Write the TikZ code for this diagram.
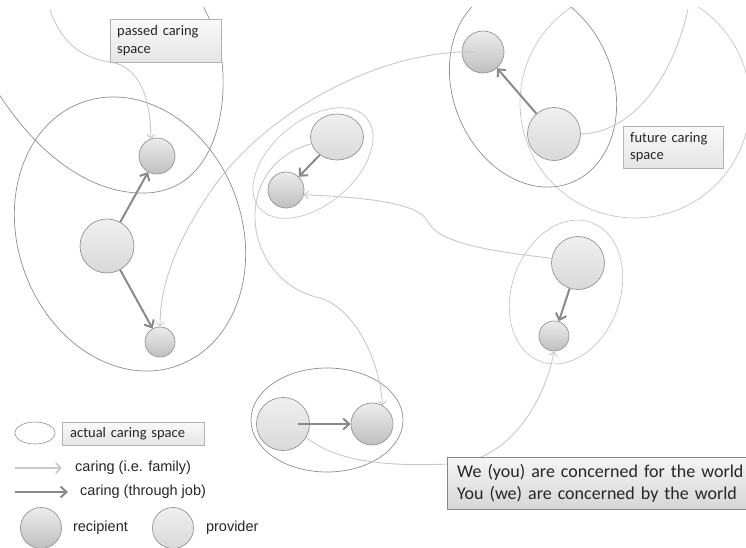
\documentclass[tikz,border=0pt]{standalone}
\usepackage{fontspec}
\setmainfont{Carlito}
\newfontfamily\legendfont{Liberation Sans}
\usepackage{tikz}
\usetikzlibrary{shapes.geometric,arrows.meta,positioning}
\definecolor{outl}{HTML}{8E8E8E}
\definecolor{outlight}{HTML}{C4C4C4}
\definecolor{jobgray}{HTML}{8A8A8A}
\definecolor{famgray}{HTML}{C8C8C8}
\definecolor{txt}{HTML}{262626}

\begin{document}
\begin{tikzpicture}[x=1pt,y=-1pt,
    prov/.style={circle,draw=gray!85,line width=.7pt,top color=gray!12,bottom color=gray!30,minimum size=#1,inner sep=0pt},
    recip/.style={circle,draw=gray!85,line width=.7pt,top color=gray!15,bottom color=gray!50,minimum size=#1,inner sep=0pt},
    job/.style={draw=jobgray,line width=2pt,-{Straight Barb[length=6pt,width=11pt]}},
    fam/.style={draw=famgray,line width=.9pt,-{Straight Barb[length=4pt,width=8pt]}},
    space/.style={draw=outl,line width=.7pt},
    spacelight/.style={draw=outlight,line width=.7pt},
    tag/.style={draw=gray!60,top color=gray!5,bottom color=gray!20,text=txt,align=left,anchor=north west,inner xsep=7pt,font=\fontsize{14.5}{17.5}\selectfont},
    leg/.style={anchor=west,inner sep=0pt,text=txt,font=\legendfont\fontsize{14.5}{17}\selectfont}]
\useasboundingbox (0,0) rectangle (746,548);

\begin{scope}
\clip (0,8) rectangle (746,548);
\draw[space] (-5,88) .. controls (40,160) and (95,195) .. (147,193) .. controls (205,190) and (225,130) .. (223,75) .. controls (222,45) and (213,25) .. (203,6);
\draw[spacelight] (635,103) circle [radius=115];
\draw[space, rotate around={22:(533,87)}] (533,87) ellipse [x radius=80, y radius=103];
\end{scope}
\draw[space, rotate around={20:(130,234)}] (130,234) ellipse [x radius=112, y radius=140];
\draw[spacelight, rotate around={40:(313,163)}] (313,163) ellipse [x radius=70, y radius=42];
\draw[spacelight, rotate around={-20:(566,292)}] (566,292) ellipse [x radius=54, y radius=74];
\draw[space] (327,420) ellipse [x radius=76, y radius=52];

\node[prov=54pt] (p1) at (107,246) {};
\node[recip=36pt] (r1a) at (157,156) {};
\node[recip=30pt] (r1b) at (160,342) {};
\node[prov=53pt, ellipse, minimum height=46pt] (p2) at (337,137) {};
\node[recip=36pt] (r2) at (286,190) {};
\node[recip=42pt] (r3) at (483,52) {};
\node[prov=53pt] (p3) at (554,134) {};
\node[prov=53pt] (p4) at (578,263) {};
\node[recip=30pt] (r4) at (554,336) {};
\node[prov=53pt] (p5) at (283,424) {};
\node[recip=42pt] (r5) at (372,424) {};

\draw[job] (p1) -- (r1a);
\draw[job] (p1) -- (r1b);
\draw[job] (p2) -- (r2);
\draw[job] (p3) -- (r3);
\draw[job] (p4) -- (r4);
\draw[job, shorten <=15pt] (p5.center) -- (r5);

\coordinate (past) at (50,10);
\coordinate (future) at (688,9);
\draw[fam] (past) .. controls (60,40) and (80,58) .. (110,62) .. controls (140,66) and (151,100) .. (r1a.110);
\draw[fam, shorten <=8pt] (r3.center) .. controls (380,50) and (270,110) .. (215,185) .. controls (180,235) and (160,280) .. (r1b.north);
\draw[fam] (p4.170) .. controls (500,252) and (440,245) .. (428,222) .. controls (420,205) and (380,198) .. (r2.-15);
\draw[fam] (p2.195) .. controls (230,165) and (240,280) .. (320,298) .. controls (350,307) and (378,350) .. (r5.60);
\draw[fam] (p5.-30) .. controls (340,465) and (400,466) .. (450,464) .. controls (510,462) and (545,400) .. (r4.south);
\draw[draw=famgray, line width=.9pt] (p3.east) .. controls (630,133) and (672,82) .. (future);

\node[tag, text width=97pt, minimum height=43pt] (passed) at (110,19) {passed caring\\space};
\node[tag, text width=86pt, minimum height=42pt] (fbox) at (623,126) {future caring\\space};
\node[tag, draw=gray!95, top color=gray!8, bottom color=gray!32, text width=290pt, minimum height=52pt, inner xsep=10pt, font=\fontsize{18}{21.5}\selectfont] (quote) at (447,457) {We (you) are concerned for the world\\You (we) are concerned by the world};

\node[ellipse, draw=outl, line width=.6pt, minimum width=40pt, minimum height=22pt] (lspace) at (35,433) {};
\node[tag, text width=126pt, minimum height=23pt, inner xsep=8pt, inner ysep=0pt] (lbox) at (62,422) {actual caring space};
\node[leg] (lfam) at (75,468) {caring (i.e. family)};
\node[leg] (ljob) at (80,492) {caring (through job)};
\coordinate (lfam0) at (15,468);
\coordinate (ljob0) at (15,492);
\draw[draw=famgray, line width=1.6pt, -{Straight Barb[length=5pt,width=10pt]}, shorten >=13pt] (lfam0) -- (lfam.west);
\draw[job, shorten >=12pt] (ljob0) -- (ljob.west);
\node[recip=41pt] (lrec) at (41,528) {};
\node[leg, right=11pt of lrec] (lrectxt) {recipient};
\node[prov=41pt] (lprov) at (173,528) {};
\node[leg, right=12pt of lprov] (lprovtxt) {provider};
\end{tikzpicture}
\end{document}
